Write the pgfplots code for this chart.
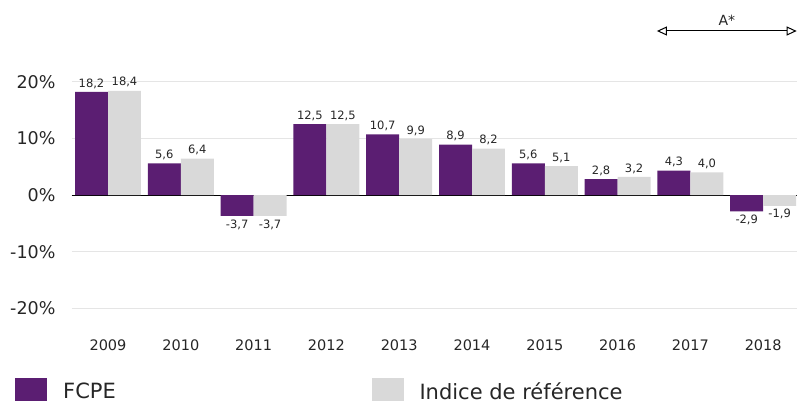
\documentclass[border=0pt]{standalone}
\usepackage{pgfplots}
\pgfplotsset{compat=1.18}
\usepackage{fontspec}
\setmainfont{DejaVu Sans}
\usetikzlibrary{arrows.meta}
\definecolor{fcpe}{RGB}{91,30,114}
\definecolor{indice}{RGB}{217,217,217}
\definecolor{gridc}{RGB}{229,229,229}
\begin{document}
\begin{tikzpicture}
\path[use as bounding box] (0,0) rectangle (797pt,-403pt);
\begin{axis}[
  at={(71.6pt,-308.3pt)}, anchor=south west,
  scale only axis, width=728pt, height=226.6pt,
  xmin=-0.5, xmax=9.5, ymin=-20, ymax=20,
  clip=false,
  ybar=0pt, bar width=0.453,
  axis line style={draw=none},
  tick style={draw=none},
  xtick={0,...,9},
  xticklabels={2009,2010,2011,2012,2013,2014,2015,2016,2017,2018},
  xticklabel style={font=\fontsize{14.5}{16}\selectfont, inner sep=0pt, yshift=-26.6pt, text=black!85},
  ytick={-20,-10,10,20},
  yticklabels={-20\%,-10\%,10\%,20\%},
  extra y ticks={0}, extra y tick labels={0\%},
  extra y tick style={major grid style={black, line width=1pt}},
  yticklabel style={font=\fontsize{17.5}{19}\selectfont, inner sep=0pt, xshift=-16pt, text=black!85},
  ymajorgrids, major grid style={gridc, line width=1pt},
  /pgf/number format/assume math mode=true,
  nodes near coords,
  nodes near coords style={font=\fontsize{11.5}{12}\selectfont, text=black!85,
    /pgf/number format/.cd, use comma, fixed, fixed zerofill, precision=1, assume math mode=true},
  legend columns=2,
  legend style={at={(axis description cs:-0.0777,-0.358)}, anchor=west, draw=none, fill=none,
    inner sep=0pt, row sep=0pt, font=\fontsize{21}{24}\selectfont,
    /tikz/every odd column/.append style={column sep=16pt},
    nodes={inner sep=0pt, text=black!85}},
  legend image code/.code={\fill[#1] (0pt,-9pt) rectangle (32pt,14pt);},
]
\addplot[fill=fcpe, draw=none] coordinates {
(0,18.2) (1,5.6) (2,-3.7) (3,12.5) (4,10.7) (5,8.9) (6,5.6) (7,2.8) (8,4.3) (9,-2.9)};
\addlegendentry{\makebox[308.3pt][l]{FCPE}}
\addplot[fill=indice, draw=none] coordinates {
(0,18.4) (1,6.4) (2,-3.7) (3,12.5) (4,9.9) (5,8.2) (6,5.1) (7,3.2) (8,4.0) (9,-1.9)};
\addlegendentry{Indice de référence}
\draw[line width=1pt, {Triangle[open,length=10pt,width=9pt,fill=white]}-{Triangle[open,length=10pt,width=9pt,fill=white]}]
  (axis cs:7.54,28.95) -- (axis cs:9.46,28.95);
\node[font=\fontsize{14}{16}\selectfont, text=black!85] at (axis cs:8.5,30.9) {A*};
\end{axis}
\end{tikzpicture}
\end{document}
